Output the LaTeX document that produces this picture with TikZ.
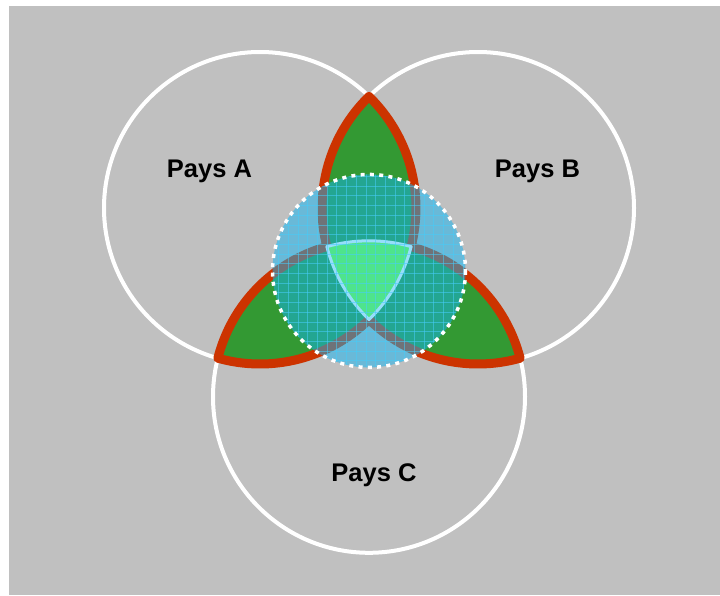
\documentclass[tikz,border=0pt]{standalone}
\usepackage{fontspec}
\setmainfont{Liberation Sans}
\usetikzlibrary{calc}
\definecolor{bggray}{RGB}{192,192,192}
\definecolor{lobegreen}{RGB}{51,153,51}
\definecolor{lobered}{RGB}{204,51,0}
\definecolor{overblue}{RGB}{20,180,240}
\definecolor{coregreen}{RGB}{78,228,140}
\definecolor{coreedge}{RGB}{150,222,250}
\definecolor{gridcyan}{RGB}{70,205,250}
\begin{document}
\begin{tikzpicture}[x=1pt,y=-1pt,
  ring/.style={draw=white,line width=4pt},
  gridline/.style={draw=gridcyan,line width=0.9pt,opacity=0.55},
  lbl/.style={font=\bfseries\fontsize{25.5}{30}\selectfont,anchor=base,inner sep=0pt}]
\useasboundingbox (0,0) rectangle (720,595);
\fill[bggray] (8.5,6) rectangle (720,595);
\coordinate (A) at (260,208);
\coordinate (B) at (478,208);
\coordinate (C) at (369,396.79);
\coordinate (O) at (369,270.93);
% country circles
\draw[ring] (A) circle[radius=156];
\draw[ring] (B) circle[radius=156];
\draw[ring] (C) circle[radius=156];
% trefoil (points in at least two countries)
\filldraw[fill=lobegreen,draw=lobered,line width=9pt,line join=round]
  ($(B)+(225.67:156)$) arc[start angle=225.67,end angle=165.67,radius=156]
  arc[start angle=254.33,end angle=194.33,radius=156]
  arc[start angle=105.67,end angle=45.67,radius=156]
  arc[start angle=134.33,end angle=74.33,radius=156]
  arc[start angle=345.67,end angle=285.67,radius=156]
  arc[start angle=14.33,end angle=-45.67,radius=156] -- cycle;
% translucent blue disc
\fill[overblue,opacity=0.5] (O) circle[radius=96.5];
% core (all three countries)
\filldraw[fill=coregreen,draw=coreedge,line width=3pt,line join=round]
  ($(C)+(254.33:156)$) arc[start angle=254.33,end angle=285.67,radius=156]
  arc[start angle=14.33,end angle=45.67,radius=156]
  arc[start angle=134.33,end angle=165.67,radius=156] -- cycle;
% grid inside the disc
\begin{scope}
  \clip (O) circle[radius=96.5];
  \foreach \k in {0,...,21} {
    \draw[gridline] (269+\k*9.7,170) -- ++(0,202);
    \draw[gridline] (268,176.5+\k*9.7) -- ++(204,0);
  }
\end{scope}
% dotted border
\draw[white,line width=3.5pt,dash pattern=on 4pt off 5.3pt] (O) circle[radius=96.5];
% labels
\node[lbl] (la) at (209.5,177) {Pays A};
\node[lbl] (lb) at (537.5,177) {Pays B};
\node[lbl] (lc) at (374,481) {Pays C};
\end{tikzpicture}
\end{document}
